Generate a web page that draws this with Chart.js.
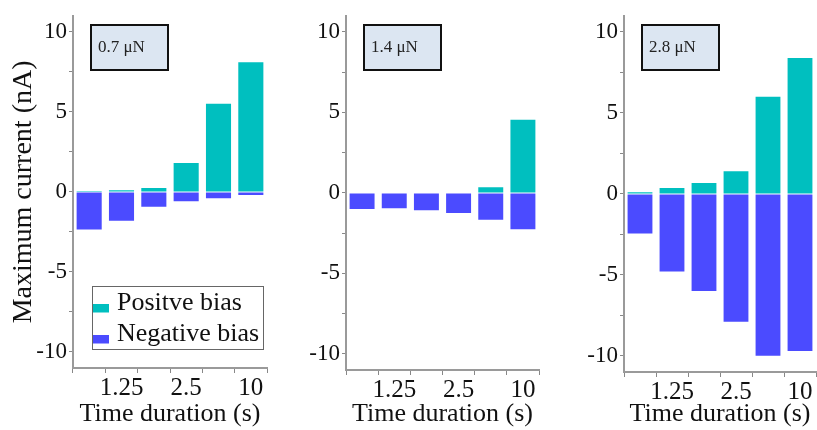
<!DOCTYPE html>
<html>
<head>
<meta charset="utf-8">
<script src="https://cdn.jsdelivr.net/npm/chart.js@4.4.1/dist/chart.umd.min.js"></script>
<style>
  html, body { margin: 0; padding: 0; background: #fff; }
  #wrap { position: relative; width: 817px; height: 430px; overflow: hidden; }
  canvas { position: absolute; top: 0; }
</style>
</head>
<body>
<div id="wrap">
  <canvas id="c1" width="280" height="430" style="left:0px"></canvas>
  <canvas id="c2" width="270" height="430" style="left:280px"></canvas>
  <canvas id="c3" width="267" height="430" style="left:550px"></canvas>
</div>
<script>
// Data
const tickLabels = ['', '1.25', '', '2.5', '', '10'];
const yTicks = [-10, -7.5, -5, -2.5, 0, 2.5, 5, 7.5, 10];
const forceLabels = ['0.7 μN', '1.4 μN', '2.8 μN'];
const seriesNames = ['Positve bias', 'Negative bias'];

const pos07 = [0.05, 0.1, 0.25, 1.8, 5.5, 8.1];
const neg07 = [-2.35, -1.8, -0.93, -0.58, -0.4, -0.2];
const pos14 = [0, 0, 0, 0, 0.35, 4.55];
const neg14 = [-1.0, -0.96, -1.08, -1.25, -1.67, -2.25];
const pos28 = [0.1, 0.37, 0.67, 1.4, 6.0, 8.4];
const neg28 = [-2.45, -4.8, -6.0, -7.9, -10.0, -9.7];

const TEAL = '#00bfbf';
const BLUE = '#4b4bff';
const SERIF = '"Liberation Serif", "Times New Roman", serif';

// Force label box drawn in top-left of the plot
const forceBox = {
  id: 'forceBox',
  afterDraw(chart, args, opts) {
    const ctx = chart.ctx;
    const a = chart.chartArea;
    const x = a.left + 18, y = 25, w = 77, h = 45;
    ctx.save();
    ctx.fillStyle = '#dce6f2';
    ctx.fillRect(x, y, w, h);
    ctx.strokeStyle = '#111';
    ctx.lineWidth = 2;
    ctx.strokeRect(x, y, w, h);
    ctx.fillStyle = '#222';
    ctx.font = '17px ' + SERIF;
    ctx.textBaseline = 'middle';
    ctx.fillText(opts.text, x + 7, y + h / 2);
    ctx.restore();
  }
};

// Boxed legend inside the first panel
const boxLegend = {
  id: 'boxLegend',
  afterDraw(chart, args, opts) {
    if (!opts.show) return;
    const ctx = chart.ctx;
    const a = chart.chartArea;
    const x = a.left + 19, y = 286, w = 171, h = 63;
    ctx.save();
    ctx.fillStyle = '#fff';
    ctx.fillRect(x, y, w, h);
    ctx.strokeStyle = '#666';
    ctx.lineWidth = 1;
    ctx.strokeRect(x + 0.5, y + 0.5, w, h);
    ctx.font = '26px ' + SERIF;
    ctx.textBaseline = 'middle';
    chart.data.datasets.forEach((ds, i) => {
      const cy = y + 17 + i * 31;
      ctx.fillStyle = ds.backgroundColor;
      ctx.fillRect(x + 1, cy + 1, 16, 8.5);
      ctx.fillStyle = '#111';
      ctx.fillText(ds.label, x + 25, cy);
    });
    ctx.restore();
  }
};

function makePanel(id, pos, neg, force, cfg) {
  new Chart(document.getElementById(id), {
    type: 'bar',
    data: {
      labels: tickLabels,
      datasets: [
        { label: seriesNames[0], data: pos, backgroundColor: TEAL },
        { label: seriesNames[1], data: neg, backgroundColor: BLUE }
      ]
    },
    options: {
      responsive: false,
      animation: false,
      layout: { padding: { left: 0, right: cfg.right, top: cfg.top, bottom: 0 } },
      datasets: { bar: { categoryPercentage: 0.8, barPercentage: 0.97 } },
      plugins: {
        legend: { display: false },
        tooltip: { enabled: false },
        forceBox: { text: force },
        boxLegend: { show: cfg.legend }
      },
      scales: {
        x: {
          stacked: true,
          afterFit: s => { s.height = cfg.xh; },
          grid: { display: true, drawOnChartArea: false, tickLength: 5, color: '#888' },
          border: { color: '#9a9a9a', width: 2 },
          ticks: { color: '#111', font: { family: SERIF, size: 25 }, autoSkip: false, maxRotation: 0, padding: 0 },
          title: { display: true, text: 'Time duration (s)', color: '#111', font: { family: SERIF, size: 26 }, padding: { top: 0, bottom: 0 } }
        },
        y: {
          stacked: true,
          min: -11,
          max: 11,
          afterFit: s => { s.width = cfg.yw; },
          afterBuildTicks: s => { s.ticks = yTicks.map(v => ({ value: v })); },
          grid: { display: true, drawOnChartArea: false, tickLength: 4, color: '#888' },
          border: { color: '#9a9a9a', width: 2 },
          ticks: {
            color: '#111',
            font: { family: SERIF, size: 23 },
            padding: 2,
            callback: v => (v % 5 === 0 ? String(v) : '')
          },
          title: {
            display: cfg.legend,
            text: 'Maximum current (nA)',
            color: '#111',
            font: { family: SERIF, size: 28 },
            padding: { top: 7, bottom: 0 }
          }
        }
      }
    },
    plugins: [forceBox, boxLegend]
  });
}

makePanel('c1', pos07, neg07, forceLabels[0], { yw: 73, right: 13, top: 10, xh: 62, legend: true });
makePanel('c2', pos14, neg14, forceLabels[1], { yw: 66, right: 11, top: 13, xh: 60, legend: false });
makePanel('c3', pos28, neg28, forceLabels[2], { yw: 74, right: 1, top: 14, xh: 58, legend: false });
</script>
</body>
</html>
